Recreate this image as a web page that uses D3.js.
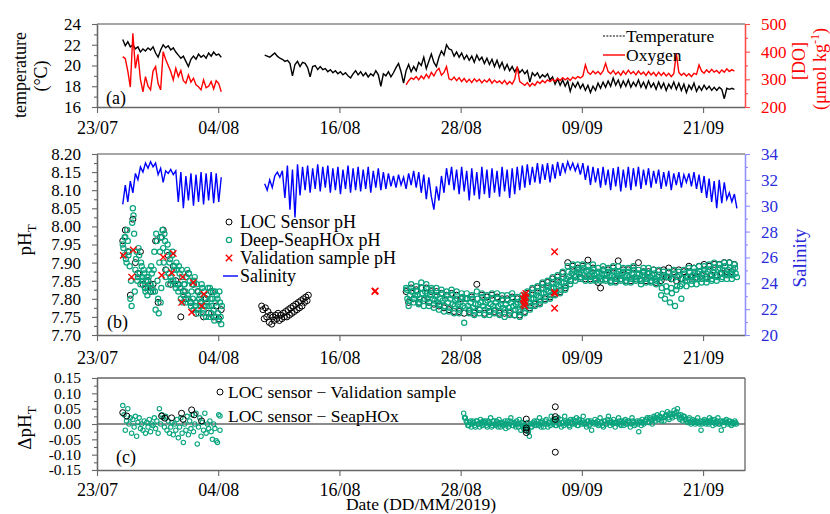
<!DOCTYPE html>
<html><head><meta charset="utf-8">
<script src="https://cdn.jsdelivr.net/npm/d3@7"></script>
<style>
body{margin:0;background:#fff;}
svg{font-family:"Liberation Serif","Times New Roman",serif;}
</style></head><body>
<svg id="chart" width="830" height="514"></svg>
<script>
// ---------------- DATA (day offsets from 23/07/2019 00:00) ----------------
const xTickDays = [0, 12, 24, 36, 48, 60];
const tempTicks = [16, 18, 20, 22, 24], tempMinor = [17, 19, 21, 23];
const doTicks = [200, 300, 400, 500], doMinor = [250, 350, 450];
const phTicks = [7.70,7.75,7.80,7.85,7.90,7.95,8.00,8.05,8.10,8.15,8.20];
const phMinor = [7.725,7.775,7.825,7.875,7.925,7.975,8.025,8.075,8.125,8.175];
const salTicks = [20,22,24,26,28,30,32,34], salMinor = [21,23,25,27,29,31,33];
const dphTicks = [-0.15,-0.10,-0.05,0.00,0.05,0.10,0.15];
const dphMinor = [-0.125,-0.075,-0.025,0.025,0.075,0.125];

// temperature (°C), 6-hourly
const tempAStart = 2.55;
const tempA = [22.5,21.9,22.3,21.8,22.0,21.6,21.8,21.3,21.6,21.4,21.7,21.5,21.8,21.2,20.8,21.5,22.0,21.7,21.9,21.5,21.7,21.3,21.0,20.7,20.9,20.4,19.9,20.6,20.9,20.6,21.1,20.8,21.0,20.7,21.2,20.9,21.3,21.0,21.1,20.8];
const tempBStart = 16.6;
const tempB = [21.0,20.9,20.8,21.0,21.2,20.9,20.7,20.6,20.4,20.5,20.2,19.0,20.1,20.4,19.9,20.3,20.2,19.8,18.9,19.9,
20.0,19.6,19.9,19.6,19.7,19.4,19.6,19.3,19.5,19.2,19.4,19.1,19.3,19.0,18.8,19.2,19.5,19.1,19.4,19.0,
19.3,18.9,19.2,19.0,19.5,19.1,18.0,19.2,19.0,19.4,18.9,19.3,19.8,20.2,19.4,18.3,19.5,20.1,19.4,19.9,
19.5,20.3,20.0,20.8,19.7,20.4,21.1,20.3,19.9,20.8,21.4,21.0,22.0,21.6,21.5,20.9,21.3,20.8,21.2,20.6,
21.0,20.5,20.9,20.3,21.0,20.5,20.8,20.2,20.7,20.1,20.6,19.9,20.5,19.8,20.3,19.6,20.1,19.5,19.9,19.4,
19.8,19.3,19.6,19.2,19.5,18.4,19.3,19.0,19.3,18.8,19.1,18.9,19.2,18.6,18.9,18.2,18.7,18.1,18.6,18.0,
18.5,17.5,18.3,17.9,18.4,17.8,18.2,17.6,18.1,17.4,18.0,17.6,18.3,17.8,18.4,17.9,18.5,18.0,18.8,18.1,
18.6,17.9,18.5,18.0,18.6,17.9,18.4,18.0,18.6,17.9,18.4,17.8,18.5,17.9,18.3,17.7,18.4,17.8,18.3,17.6,
18.2,17.8,18.4,17.7,18.3,17.6,18.2,17.4,18.1,17.7,18.3,17.5,18.0,17.6,18.1,17.7,18.0,17.6,17.9,17.6,
17.9,17.7,16.8,17.8,17.7,17.8,17.7];

// dissolved oxygen (µmol/kg), 6-hourly
const oxyAStart = 2.55;
const oxyA = [382,375,330,272,466,340,390,300,255,310,275,262,330,346,285,262,400,372,350,328,298,340,310,332,295,286,316,290,304,280,273,262,298,270,275,292,265,295,285,255];
const oxyBStart = 30.6;
const oxyB = [280,295,305,300,310,298,312,302,318,305,325,312,330,340,315,325,346,302,298,308,
295,306,292,303,290,300,288,302,292,300,287,298,290,301,286,297,288,294,284,296,
282,292,283,300,346,292,285,278,288,275,286,278,292,285,296,288,298,292,300,293,
304,296,306,298,305,296,308,302,310,305,312,352,325,318,330,320,328,318,330,358,
328,320,332,318,327,315,330,318,333,320,328,316,330,318,326,314,328,316,325,312,
326,314,324,312,322,310,320,394,325,315,322,312,320,310,322,318,352,330,322,334,
325,336,326,332,322,334,326,338,328,335,330];

// salinity, 6-hourly
const salAStart = 2.55;
const salA = [30.1,31.6,30.3,31.9,31.0,32.5,32.0,33.0,32.6,33.3,32.9,33.4,33.0,33.3,32.4,32.9,31.8,32.7,32.5,32.8,32.4,32.7,30.3,32.6,29.8,32.3,30.4,32.5,30.0,32.4,30.3,32.6,30.1,32.5,30.4,32.6,30.2,32.5,30.3,32.2];
const salBStart = 16.6;
const salB = [31.7,31.2,32.0,31.4,32.3,32.6,32.2,32.7,30.6,33.1,29.7,32.8,29.1,33.2,30.8,33.0,31.2,33.1,31.0,32.9,
31.3,33.2,31.1,33.0,31.4,33.1,31.0,32.9,31.2,33.0,30.9,32.8,31.3,33.1,31.0,32.9,31.2,33.0,31.1,32.8,
31.3,33.0,31.0,32.7,31.4,32.9,31.2,32.6,31.3,32.5,31.5,32.3,31.4,32.4,31.6,32.2,31.3,32.5,31.6,32.7,
31.4,32.6,31.0,32.4,30.5,32.2,30.7,29.7,31.5,30.4,32.3,31.0,32.9,31.6,33.0,31.2,32.8,30.9,33.0,31.1,
32.7,30.4,32.9,30.8,32.6,30.5,33.0,30.9,32.8,30.6,32.9,31.0,32.7,30.7,33.0,31.1,32.8,30.6,32.9,30.9,
33.0,31.2,33.1,31.4,33.2,31.6,33.0,31.8,33.3,31.7,33.2,32.0,33.3,31.8,33.2,32.1,33.4,32.3,33.3,32.6,
33.4,32.8,33.3,32.7,33.2,32.4,33.3,32.0,33.1,31.6,33.0,31.8,32.9,31.4,33.0,31.6,32.8,31.2,32.9,31.5,
33.0,31.1,32.8,31.4,33.0,31.2,32.9,31.5,33.0,31.3,32.8,31.6,32.9,31.4,32.7,31.7,32.8,31.3,32.6,31.5,
32.7,31.2,32.5,31.6,32.6,31.4,32.4,31.8,32.5,31.5,32.6,31.3,32.4,31.0,32.3,30.6,32.1,30.3,31.9,29.8,
32.0,30.2,31.8,30.5,31.0,30.3,30.9,29.8];

// LOC sensor pH
const locAStart = 2.55; // 6-hourly
const locA = [7.96,7.99,7.93,7.81,8.02,7.90,7.87,7.93,7.84,7.83,7.85,7.82,7.84,7.96,7.79,7.97,7.99,7.88,7.92,7.84,7.89,7.85,7.84,7.75,7.82,7.80,7.87,7.79,7.84,7.76,7.82,7.79,7.75,7.80,7.76,7.82,7.75,7.78,7.745,7.77];
const locBStart = 16.3; // 3-hourly
const locB = [7.78,7.77,7.745,7.775,7.75,7.765,7.735,7.755,7.73,7.75,7.74,7.755,7.745,7.76,7.74,7.755,7.745,7.76,7.75,7.765,7.75,7.77,7.755,7.775,7.76,7.78,7.765,7.785,7.77,7.79,7.775,7.795,7.78,7.80,7.79,7.805,7.795,7.81];
const locCStart = 30.6; // 6-hourly
const locC = [7.82,7.79,7.83,7.80, 7.825,7.79,7.83,7.795, 7.83,7.79,7.82,7.785, 7.82,7.78,7.815,7.775,
7.81,7.77,7.815,7.765, 7.81,7.765,7.80,7.76, 7.80,7.765,7.805,7.76, 7.84,7.77,7.81,7.76,
7.805,7.765,7.81,7.765, 7.805,7.76,7.80,7.76, 7.80,7.76,7.805,7.755, 7.80,7.755,7.80,7.765,
7.815,7.775,7.825,7.785, 7.83,7.79,7.84,7.80, 7.845,7.805,7.855,7.815, 7.86,7.82,7.87,7.83,
7.90,7.85,7.89,7.86, 7.885,7.86,7.89,7.855, 7.907,7.855,7.885,7.855, 7.845,7.83,7.88,7.855,
7.88,7.85,7.885,7.85, 7.905,7.855,7.88,7.85, 7.88,7.85,7.885,7.855, 7.90,7.85,7.875,7.85,
7.875,7.85,7.88,7.845, 7.875,7.85,7.88,7.86, 7.885,7.855,7.875,7.85, 7.88,7.855,7.875,7.86,
7.89,7.86,7.885,7.86, 7.89,7.865,7.895,7.86, 7.89,7.865,7.895,7.865, 7.895,7.87,7.90,7.875,
7.90,7.875,7.895];

// Deep-SeapHOx pH, 3-hourly (two interleaved readings, offset 1.5 h)
const sphAStart = 2.55;
const sphA = [7.95,7.92,7.97,7.90,7.96,7.93,7.80,7.78,8.05,7.98,7.88,7.93,7.86,7.92,7.84,7.89,7.85,7.87,7.82,7.86,
7.83,7.88,7.84,7.87,7.82,7.93,7.77,7.96,7.80,7.90,7.79,7.97,7.94,7.98,7.86,7.93,7.84,7.90,7.86,7.92,
7.85,7.89,7.83,7.88,7.82,7.87,7.80,7.86,7.81,7.84,7.79,7.88,7.80,7.85,7.78,7.84,7.77,7.86,7.79,7.82,
7.76,7.81,7.78,7.83,7.77,7.80,7.75,7.81,7.78,7.83,7.76,7.80,7.77,7.82,7.75,7.80,7.74,7.79,7.73];
const sphA2Start = 2.6125;
const sphA2 = [7.94,7.97,7.91,7.99,7.92,7.89, 7.85,8.01,8.03,7.82, 7.91,7.85,7.94,7.87,7.90,7.86,
7.88,7.83,7.85,7.81,7.86,7.84,7.89,7.83, 7.88,7.82,7.98,7.85,7.76,7.93,7.83,7.99,
7.90,7.96,7.88,7.95,7.87,7.91,7.85,7.93,7.88,7.84,7.90,
7.84,7.89,7.83,7.88,7.79,7.84,7.82,7.86,7.81,7.87,7.79,7.82,7.80,
7.85,7.78,7.84,7.77,7.80,7.79,7.84,7.76,
7.82,7.78,7.79,7.83,7.75,7.80,7.78,7.82,7.74,7.79,7.81,7.76,7.82,7.75,7.78];
const sphBStart = 30.6;
const sphB = [7.83,7.80,7.78,7.81,7.84,7.82,7.79,7.81, 7.835,7.81,7.785,7.80,7.845,7.815,7.78,7.82,
7.84,7.80,7.78,7.81,7.83,7.80,7.775,7.81, 7.83,7.79,7.77,7.80,7.825,7.795,7.765,7.80,
7.82,7.79,7.765,7.80,7.825,7.785,7.76,7.795, 7.82,7.785,7.76,7.79,7.815,7.78,7.734,7.80,
7.815,7.78,7.76,7.79,7.81,7.775,7.755,7.785, 7.82,7.785,7.76,7.79,7.815,7.78,7.755,7.79,
7.81,7.775,7.755,7.785,7.815,7.78,7.76,7.79, 7.815,7.78,7.755,7.785,7.81,7.775,7.75,7.785,
7.81,7.775,7.755,7.79,7.815,7.78,7.755,7.785, 7.805,7.77,7.75,7.785,7.81,7.78,7.76,7.795,
7.82,7.79,7.77,7.80,7.83,7.80,7.78,7.81, 7.835,7.805,7.785,7.815,7.845,7.815,7.795,7.825,
7.85,7.82,7.80,7.83,7.86,7.83,7.81,7.84, 7.865,7.835,7.815,7.845,7.875,7.845,7.825,7.855,
7.89,7.86,7.84,7.87,7.895,7.865,7.85,7.875, 7.895,7.87,7.855,7.88,7.895,7.865,7.85,7.875,
7.89,7.865,7.85,7.875,7.895,7.865,7.85,7.87, 7.885,7.86,7.85,7.87,7.89,7.865,7.85,7.87,
7.885,7.86,7.845,7.865,7.89,7.86,7.845,7.87, 7.89,7.865,7.85,7.87,7.885,7.86,7.845,7.865,
7.885,7.86,7.845,7.87,7.89,7.86,7.85,7.87, 7.88,7.855,7.84,7.865,7.885,7.86,7.845,7.87,
7.885,7.86,7.845,7.865,7.88,7.855,7.84,7.86, 7.88,7.845,7.81,7.86,7.875,7.80,7.835,7.86,
7.875,7.79,7.83,7.855,7.88,7.78,7.825,7.86, 7.875,7.835,7.80,7.855,7.88,7.85,7.835,7.86,
7.885,7.86,7.84,7.865,7.885,7.855,7.84,7.87, 7.89,7.86,7.845,7.87,7.89,7.86,7.845,7.875,
7.895,7.865,7.85,7.875,7.90,7.865,7.85,7.88, 7.895,7.87,7.855,7.88,7.90,7.87,7.855,7.88,
7.90,7.87,7.855,7.88,7.895,7.87,7.86];
const sphB2Start = 30.6625; // 6-hourly
const sphB2 = [7.825,7.795,7.82,7.80, 7.82,7.79,7.83,7.80, 7.815,7.79,7.825,7.795, 7.81,7.785,7.815,7.78,
7.81,7.775,7.81,7.78, 7.80,7.77,7.805,7.775, 7.80,7.77,7.80,7.765, 7.80,7.77,7.805,7.77,
7.795,7.765,7.80,7.77, 7.80,7.765,7.795,7.77, 7.795,7.765,7.80,7.77, 7.79,7.765,7.80,7.775,
7.805,7.78,7.815,7.79, 7.82,7.795,7.83,7.805, 7.835,7.81,7.845,7.82, 7.85,7.825,7.86,7.835,
7.875,7.85,7.88,7.86, 7.88,7.86,7.885,7.86, 7.88,7.86,7.88,7.855, 7.875,7.855,7.88,7.855,
7.875,7.85,7.875,7.855, 7.875,7.855,7.875,7.85, 7.875,7.855,7.88,7.855, 7.87,7.85,7.875,7.855,
7.87,7.85,7.87,7.85, 7.865,7.83,7.865,7.82, 7.86,7.815,7.87,7.835, 7.865,7.84,7.87,7.85,
7.875,7.85,7.875,7.855, 7.875,7.855,7.88,7.855, 7.88,7.855,7.885,7.86, 7.885,7.86,7.89,7.865,
7.885,7.865,7.885];

// validation samples
const valDays = [2.6,3.43,3.59,6.4,6.56,7.39,7.55,8.38,8.48,9.37,9.53,10.36,10.58,27.5,27.55,42.2,42.25,42.3,42.3,42.35,42.4,42.4,42.45,45.3,45.3,45.32,45.3];
const valPH = [7.92,7.86,7.935,7.865,7.915,7.872,7.925,7.79,7.86,7.763,7.845,7.78,7.813,7.82,7.822,7.80,7.785,7.81,7.795,7.78,7.805,7.79,7.815,7.93,7.818,7.815,7.774];

// ΔpH: LOC - validation sample
const dvDays = [2.55,2.95,6.4,6.72,7.38,8.37,8.53,9.37,9.62,10.35,42.5,42.5,42.5,42.5,45.37,45.37,45.37,45.37];
const dvVals = [0.037,0.026,0.026,0.019,0.02,0.035,0.015,0.046,0.03,0.01,0.016,-0.013,-0.02,-0.028,0.056,0.024,0.015,-0.092];

// ΔpH: LOC - SeapHOx
const dsAStart = 2.55; // 3-hourly
const dsA = [0.06,0.03,-0.02,0.01,0.05,0.0,0.02,-0.03, 0.015,-0.01,0.025,-0.04,0.005,0.02,-0.015,0.0,
-0.02,0.01,-0.03,0.005,-0.01,0.015,-0.025,0.0, -0.005,0.02,-0.015,0.01,-0.03,0.05,0.0,0.03,
0.02,-0.01,0.025,-0.02,0.01,-0.03,-0.01,0.005, -0.035,0.0,-0.02,0.015,-0.045,-0.01,0.02,-0.03,
-0.06,0.0,-0.02,0.025,-0.035,0.01,-0.015,0.03, -0.025,0.0,0.035,-0.065,-0.01,0.02,-0.04,0.005,
-0.02,0.035,-0.03,0.0,-0.015,0.01,-0.025,-0.05, 0.0,-0.015,-0.055,-0.06,0.03,-0.02];
const dsBStart = 36.3; // 4-hourly
const dsB = [0.035,0.02,0.005,-0.005,0.01,0.0, 0.005,-0.01,0.01,0.0,0.015,-0.005, 0.0,0.01,-0.01,0.005,0.02,-0.005,
0.01,-0.005,0.0,0.015,-0.01,0.005, 0.0,-0.015,0.01,0.0,0.02,-0.005, 0.005,-0.01,0.0,0.015,-0.02,0.0,
-0.01,-0.02,0.005,-0.04,-0.01,0.0, 0.01,-0.005,0.0,0.02,-0.01,0.005, 0.0,0.015,-0.01,0.005,0.025,0.0,
0.01,-0.005,0.02,0.0,-0.01,0.005, 0.025,0.0,0.01,-0.01,0.005,0.015, 0.0,0.02,-0.005,0.01,0.0,0.025,
0.005,-0.01,0.01,0.0,-0.02,0.005, 0.015,0.0,-0.005,0.02,0.005,-0.01, 0.01,0.0,0.025,-0.005,0.005,0.015,
-0.01,0.005,0.02,0.0,0.01,-0.005, 0.015,0.0,0.01,-0.01,0.02,0.005, 0.0,0.01,-0.025,0.005,0.015,0.0,
0.01,0.02,0.005,0.015,0.0,0.025, 0.01,0.03,0.015,0.02,0.035,0.01, 0.025,0.04,0.015,0.03,0.02,0.045,
0.025,0.05,0.02,0.03,0.01,0.025, 0.015,0.005,0.02,0.0,0.015,0.01, 0.005,0.02,0.0,-0.02,0.01,0.015,
0.0,0.01,0.02,0.005,-0.005,0.015, 0.005,0.02,0.0,-0.02,0.01,0.005, 0.015,0.0,0.01,-0.005,0.005,0.01, 0.0];
const dsB2Start = 36.383; // 4-hourly, offset 2 h
const dsB2 = [0.02,0.01,-0.005,0.005,-0.01,0.01, -0.005,0.01,0.0,-0.01,0.005,0.01, 0.005,-0.005,0.01,0.0,-0.01,0.01,
0.0,0.01,-0.01,0.005,0.0,-0.005, 0.01,0.0,-0.01,0.01,0.005,-0.005, 0.0,0.01,-0.01,0.0,0.005,-0.015,
-0.005,-0.015,-0.025,0.0,-0.01,0.005, 0.0,0.01,-0.005,0.005,0.01,-0.01, 0.01,0.0,0.005,-0.005,0.01,0.015,
-0.005,0.01,0.0,0.015,0.005,-0.005, 0.01,0.005,-0.005,0.015,0.0,0.01, 0.01,-0.005,0.015,0.005,0.01,0.0,
0.0,0.01,-0.005,0.01,0.005,0.0, 0.005,0.01,0.0,0.005,-0.005,0.01, 0.0,0.015,0.005,0.01,0.0,0.005,
0.005,0.0,0.01,-0.005,0.005,0.01, 0.0,0.01,0.005,0.0,0.01,-0.005, 0.005,0.0,0.01,-0.005,0.005,0.01,
0.015,0.005,0.02,0.01,0.015,0.02, 0.02,0.015,0.025,0.01,0.02,0.025, 0.03,0.02,0.035,0.025,0.03,0.035,
0.04,0.03,0.015,0.02,0.025,0.015, 0.01,0.015,0.005,0.01,0.005,0.0, 0.01,0.005,0.01,0.0,0.005,0.01,
0.005,0.0,0.01,0.015,0.005,0.0, 0.01,0.0,0.01,0.005,-0.005,0.01, 0.005,0.01,0.0,0.005,0.0,0.005];

// ---------------- HELPERS ----------------
const T0 = Date.UTC(2019, 6, 23);
const dayToDate = d => new Date(T0 + d * 864e5);
const series = (start, stepH, vals) => vals.map((v, i) => ({t: dayToDate(start + i * stepH / 24), v}));
const points = (days, vals) => days.map((d, i) => ({t: dayToDate(d), v: vals[i]}));

const FONT = '"Liberation Serif","Times New Roman",serif';
const AX = "#666";
const GREEN = "#0aa57f";
const RED = "#ff0000";
const BLUE = "#0000ff";
const BLUE_T = "#2b2bdc";

const svg = d3.select("#chart");
const X0 = 97, X1 = 745;
const x = d3.scaleUtc().domain([dayToDate(0), dayToDate(64.15)]).range([X0, X1]);
const xTicks = xTickDays.map(dayToDate);

const yT = d3.scaleLinear().domain([16, 24]).range([107, 24]);
const yO = d3.scaleLinear().domain([200, 500]).range([107, 24]);
const yP = d3.scaleLinear().domain([7.70, 8.20]).range([335, 154]);
const yS = d3.scaleLinear().domain([20, 34]).range([335, 154]);
const yD = d3.scaleLinear().domain([-0.15, 0.15]).range([470, 378]);

function styleAxis(g, lineColor, textColor, fs) {
  g.attr("font-family", FONT).attr("font-size", fs);
  g.select(".domain").attr("stroke", lineColor).attr("stroke-width", 1.3);
  g.selectAll(".tick line").attr("stroke", lineColor).attr("stroke-width", 1.1);
  g.selectAll(".tick text").attr("fill", textColor);
}
function xAxis(yPos, pad) {
  const g = svg.append("g").attr("transform", `translate(0,${yPos})`)
    .call(d3.axisBottom(x).tickValues(xTicks).tickFormat(d3.utcFormat("%d/%m")).tickSize(6).tickSizeOuter(0).tickPadding(pad));
  styleAxis(g, AX, "#000", 18);
}
function yAxis(scale, side, ticks, minor, fmt, lineColor, textColor, fs) {
  const xPos = side === "left" ? X0 : X1;
  const mk = side === "left" ? d3.axisLeft : d3.axisRight;
  const gm = svg.append("g").attr("transform", `translate(${xPos},0)`)
    .call(mk(scale).tickValues(minor).tickFormat("").tickSize(3).tickSizeOuter(0));
  styleAxis(gm, lineColor, textColor, fs);
  const g = svg.append("g").attr("transform", `translate(${xPos},0)`)
    .call(mk(scale).tickValues(ticks).tickFormat(fmt).tickSize(5).tickSizeOuter(0).tickPadding(11));
  styleAxis(g, lineColor, textColor, fs);
}
function hline(y, x0, x1, color) {
  svg.append("line").attr("x1", x0).attr("x2", x1).attr("y1", y).attr("y2", y)
    .attr("stroke", color).attr("stroke-width", 1.3);
}
function vlabel(xp, yp, color, fs, build) {
  const t = svg.append("text").attr("transform", `translate(${xp},${yp}) rotate(-90)`)
    .attr("text-anchor", "middle").attr("font-size", fs).attr("fill", color).attr("font-family", FONT);
  build(t);
  return t;
}
const crossPath = "M-3.2,-3.2L3.2,3.2M-3.2,3.2L3.2,-3.2";
function rings(data, yScale, r, color, sw) {
  svg.append("g").selectAll("circle").data(data).join("circle")
    .attr("cx", d => x(d.t)).attr("cy", d => yScale(d.v)).attr("r", r)
    .attr("fill", "none").attr("stroke", color).attr("stroke-width", sw);
}

// ---------------- PANEL (a) ----------------
hline(24, X0, X1, "#888");
xAxis(107, 8);
yAxis(yT, "left", tempTicks, tempMinor, d3.format("d"), AX, "#000", 17);
yAxis(yO, "right", doTicks, doMinor, d3.format("d"), "#ff4a4a", RED, 17);

const lineT = d3.line().x(d => x(d.t)).y(d => yT(d.v));
const lineO = d3.line().x(d => x(d.t)).y(d => yO(d.v));
[series(tempAStart, 6, tempA), series(tempBStart, 6, tempB)].forEach(s =>
  svg.append("path").datum(s).attr("d", lineT).attr("fill", "none").attr("stroke", "#000").attr("stroke-width", 1.4));
[series(oxyAStart, 6, oxyA), series(oxyBStart, 6, oxyB)].forEach(s =>
  svg.append("path").datum(s).attr("d", lineO).attr("fill", "none").attr("stroke", RED).attr("stroke-width", 1.4));

// legend (a)
svg.append("line").attr("x1", 603).attr("x2", 625).attr("y1", 36).attr("y2", 36)
  .attr("stroke", "#000").attr("stroke-width", 1.2).attr("stroke-dasharray", "2,1.3");
svg.append("text").attr("x", 626).attr("y", 42).attr("font-size", 17.5).attr("font-family", FONT).text("Temperature");
svg.append("line").attr("x1", 603).attr("x2", 625).attr("y1", 55).attr("y2", 55)
  .attr("stroke", RED).attr("stroke-width", 1.4);
svg.append("text").attr("x", 626).attr("y", 61).attr("font-size", 17.5).attr("font-family", FONT).text("Oxygen");
svg.append("text").attr("x", 106).attr("y", 104).attr("font-size", 18).attr("font-family", FONT).text("(a)");

vlabel(26, 75, "#000", 18, t => t.text("temperature"));
vlabel(47, 76, "#000", 18, t => t.text("(°C)"));
vlabel(805, 61, RED, 18, t => t.text("[DO]"));
vlabel(826, 69, RED, 18, t => { t.text("(μmol kg"); t.append("tspan").attr("font-size", 12).attr("dy", -7).text("-1"); t.append("tspan").attr("dy", 7).text(")"); });

// ---------------- PANEL (b) ----------------
hline(154, X0, X1, "#888");
xAxis(335, 10);
yAxis(yP, "left", phTicks, phMinor, d3.format(".2f"), AX, "#000", 17);
yAxis(yS, "right", salTicks, salMinor, d3.format("d"), "#8f8fff", BLUE_T, 17);

const lineS = d3.line().x(d => x(d.t)).y(d => yS(d.v));
[series(salAStart, 6, salA), series(salBStart, 6, salB)].forEach(s =>
  svg.append("path").datum(s).attr("d", lineS).attr("fill", "none").attr("stroke", BLUE).attr("stroke-width", 1.4));

rings([...series(locAStart, 6, locA), ...series(locBStart, 3, locB), ...series(locCStart, 6, locC)], yP, 3, "#000", 1);
rings([...series(sphAStart, 3, sphA), ...series(sphA2Start, 3, sphA2), ...series(sphBStart, 3, sphB), ...series(sphB2Start, 6, sphB2)], yP, 2.6, GREEN, 1.2);
svg.append("g").selectAll("path").data(points(valDays, valPH)).join("path")
  .attr("transform", d => `translate(${x(d.t)},${yP(d.v)})`).attr("d", crossPath)
  .attr("stroke", RED).attr("stroke-width", 1.4).attr("fill", "none");

// legend (b)
const lgB = [{y: 222, t: "LOC Sensor pH"}, {y: 240, t: "Deep-SeapHOx pH"}, {y: 258, t: "Validation sample pH"}, {y: 276, t: "Salinity"}];
svg.append("circle").attr("cx", 229).attr("cy", 222).attr("r", 3).attr("fill", "none").attr("stroke", "#000");
svg.append("circle").attr("cx", 229).attr("cy", 240).attr("r", 2.6).attr("fill", "none").attr("stroke", GREEN).attr("stroke-width", 1.2);
svg.append("path").attr("transform", "translate(229,258)").attr("d", crossPath).attr("stroke", RED).attr("stroke-width", 1.4);
svg.append("line").attr("x1", 223).attr("x2", 238).attr("y1", 276).attr("y2", 276).attr("stroke", BLUE).attr("stroke-width", 1.4);
lgB.forEach(l => svg.append("text").attr("x", 240).attr("y", l.y + 6).attr("font-size", 18).attr("font-family", FONT).text(l.t));
svg.append("text").attr("x", 107).attr("y", 328).attr("font-size", 18).attr("font-family", FONT).text("(b)");

vlabel(31, 240, "#000", 19, t => { t.text("pH"); t.append("tspan").attr("font-size", 13).attr("dy", 5).text("T"); });
vlabel(806, 258, BLUE_T, 19, t => t.text("Salinity"));

// ---------------- PANEL (c) ----------------
hline(378, X0, X1, AX);
svg.append("line").attr("x1", X1).attr("x2", X1).attr("y1", 378).attr("y2", 470).attr("stroke", AX).attr("stroke-width", 1.3);
hline(yD(0), X0, X1, AX);
xAxis(470, 7);
yAxis(yD, "left", dphTicks, dphMinor, d => d.toFixed(2), AX, "#000", 15.5);

rings([...series(dsAStart, 3, dsA), ...series(dsBStart, 4, dsB), ...series(dsB2Start, 4, dsB2)], yD, 2.2, GREEN, 1.1);
rings(points(dvDays, dvVals), yD, 3, "#000", 1);

svg.append("circle").attr("cx", 220).attr("cy", 392).attr("r", 3).attr("fill", "none").attr("stroke", "#000");
svg.append("text").attr("x", 228).attr("y", 398).attr("font-size", 17.5).attr("font-family", FONT).text("LOC sensor − Validation sample");
svg.append("circle").attr("cx", 220).attr("cy", 416).attr("r", 2.2).attr("fill", "none").attr("stroke", GREEN).attr("stroke-width", 1.1);
svg.append("text").attr("x", 228).attr("y", 422).attr("font-size", 17.5).attr("font-family", FONT).text("LOC sensor − SeapHOx");
svg.append("text").attr("x", 116).attr("y", 463).attr("font-size", 18).attr("font-family", FONT).text("(c)");

vlabel(31, 428, "#000", 19, t => { t.text("ΔpH"); t.append("tspan").attr("font-size", 13).attr("dy", 5).text("T"); });

svg.append("text").attr("x", 421).attr("y", 510).attr("text-anchor", "middle").attr("font-size", 17.5)
  .attr("font-family", FONT).text("Date (DD/MM/2019)");
</script>
</body></html>
